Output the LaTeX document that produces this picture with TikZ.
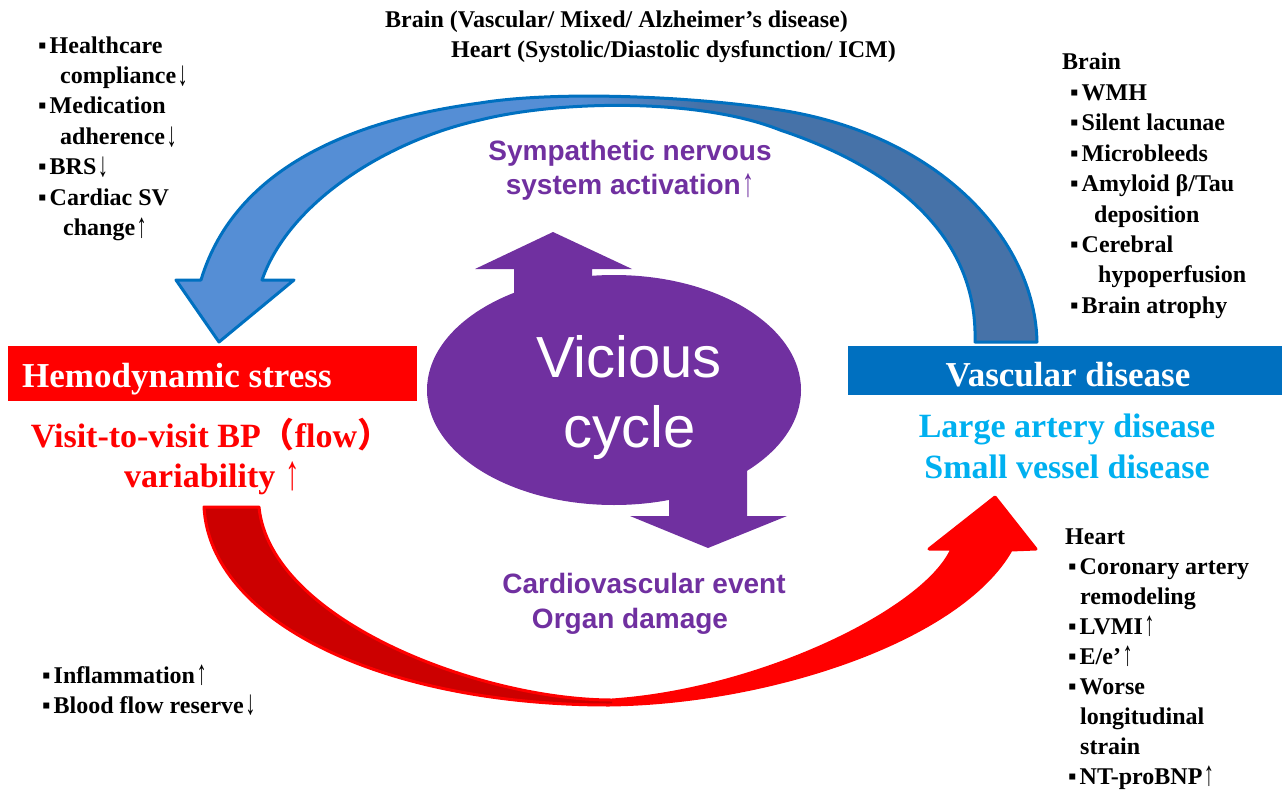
\documentclass[tikz,border=0pt]{standalone}
\usepackage{fontspec}
\usepackage{graphicx}
\setmainfont{Liberation Serif}
\setsansfont{Liberation Sans}
\newfontfamily\cjk{Noto Sans CJK SC}
\usetikzlibrary{shapes.geometric}

\definecolor{cyclepurple}{HTML}{7030A0}
\definecolor{vascblue}{HTML}{0070C0}
\definecolor{arrowlight}{HTML}{558ED5}
\definecolor{arrowdark}{HTML}{4672A8}
\definecolor{lightcyan}{HTML}{00B0F0}
\definecolor{darkred}{HTML}{CC0000}

% thin tall arrows and list bullet
\newcommand{\arrup}{\kern1.5pt\raisebox{-0.08em}{\scalebox{0.85}[1.45]{\mdseries ↑}}}
\newcommand{\arrdn}{\kern1.5pt\raisebox{-0.08em}{\scalebox{0.85}[1.45]{\mdseries ↓}}}
\newcommand{\bul}{▪\kern3pt}

% outlines of the two big bent arrows (pixel coordinates, y downwards)
\newcommand{\bluearrowpath}{(1037,342) .. controls (1035,240) and (940,135) .. (780,110)
  .. controls (700,97) and (560,90) .. (480,103)
  .. controls (390,115) and (240,150) .. (201,280)
  -- (176,280) -- (219,342) -- (294,280) -- (262,280)
  .. controls (290,200) and (390,140) .. (480,120)
  .. controls (560,100) and (700,98) .. (780,130)
  .. controls (900,170) and (978,240) .. (975,342) -- cycle}
\newcommand{\redarrowpath}{(204,507) .. controls (210,620) and (380,705) .. (609,705)
  .. controls (770,703) and (960,640) .. (1011,550)
  -- (1036,549) -- (995,497) -- (929,549) -- (952,549)
  .. controls (925,610) and (760,690) .. (612,700)
  .. controls (480,700) and (270,620) .. (259,507) -- cycle}

\begin{document}
\begin{tikzpicture}[x=1pt, y=-1pt,
  listtext/.style={anchor=base west, inner sep=0pt, font=\bfseries\fontsize{24}{30}\selectfont},
  boxtitle/.style={inner sep=0pt, text=white, font=\bfseries\fontsize{35}{40}\selectfont},
  subtitle/.style={anchor=base, inner sep=0pt, font=\bfseries\fontsize{34}{40}\selectfont},
  purpletext/.style={anchor=base, inner sep=0pt, text=cyclepurple, font=\sffamily\bfseries\fontsize{28}{32}\selectfont}]
  \useasboundingbox (0,0) rectangle (1282,792);

  % blue arrow (vascular disease -> hemodynamic stress)
  \fill[arrowlight] \bluearrowpath;
  \begin{scope}
    \clip \bluearrowpath;
    \shade[left color=arrowlight, right color=arrowdark] (580,0) rectangle (700,400);
    \fill[arrowdark] (700,0) rectangle (1282,400);
  \end{scope}
  \draw[vascblue, line width=3pt, line join=round] \bluearrowpath;

  % red arrow (hemodynamic stress -> vascular disease)
  \fill[red] \redarrowpath;
  \begin{scope}
    \clip (0,400) rectangle (612,792);
    \fill[darkred] \redarrowpath;
  \end{scope}
  \draw[red, line width=3pt, line join=round] \redarrowpath;

  % vicious cycle
  \node[ellipse, fill=cyclepurple, minimum width=374pt, minimum height=230pt, inner sep=0pt] (cycle) at (614,390) {};
  \fill[cyclepurple] (514,330) -- (514,269) -- (475,269) -- (553,232) -- (632,269) -- (592,269) -- (592,330) -- cycle;
  \fill[cyclepurple] (669,450) -- (669,516) -- (630,516) -- (708,548) -- (787,516) -- (747,516) -- (747,450) -- cycle;
  \node[anchor=base, inner sep=0pt, text=white, font=\sffamily\fontsize{58}{70}\selectfont] (vica) at (629,377) {Vicious};
  \node[anchor=base, inner sep=0pt, text=white, font=\sffamily\fontsize{58}{70}\selectfont] (vicb) at (630,447) {cycle};

  \node[purpletext] (snsa) at (630,160) {Sympathetic nervous};
  \node[purpletext] (snsb) at (630,194) {system activation\arrup};
  \node[purpletext] (cvea) at (644,593) {Cardiovascular event};
  \node[purpletext] (cveb) at (630,628) {Organ damage};

  % the two boxes
  \fill[red] (8,346) rectangle (417,401);
  \node[boxtitle, anchor=base west] (hemo) at (22,387) {Hemodynamic stress};
  \fill[vascblue] (848,346) rectangle (1282,395);
  \node[boxtitle, anchor=base] (vasc) at (1068,386) {Vascular disease};

  \node[subtitle, text=red] (vva) at (211,447) {Visit-to-visit BP{\cjk （}flow{\cjk ）}};
  \node[subtitle, text=red] (vvb) at (212,487) {variability \arrup};
  \node[subtitle, text=lightcyan] (lad) at (1067,437) {Large artery disease};
  \node[subtitle, text=lightcyan] (svd) at (1067,478) {Small vessel disease};

  % top lines
  \node[listtext] (topbrain) at (385,28) {Brain (Vascular/ Mixed/ Alzheimer’s disease)};
  \node[listtext] (topheart) at (451,58) {Heart (Systolic/Diastolic dysfunction/ ICM)};

  % lists
  \foreach \x/\t [count=\i from 0] in {38/{\bul Healthcare}, 60/{compliance\arrdn}, 38/{\bul Medication},
      60/{adherence\arrdn}, 38/{\bul BRS\arrdn}, 38/{\bul Cardiac SV}, 63/{change\arrup}}
    \node[listtext] (hl\i) at (\x, {53+30.4*\i}) {\t};
  \foreach \x/\t [count=\i from 0] in {1062/{Brain}, 1070/{\bul WMH}, 1070/{\bul Silent lacunae},
      1070/{\bul Microbleeds}, 1070/{\bul Amyloid β/Tau}, 1094/{deposition}, 1070/{\bul Cerebral},
      1098/{hypoperfusion}, 1070/{\bul Brain atrophy}}
    \node[listtext] (br\i) at (\x, {70+30.4*\i}) {\t};
  \foreach \x/\t [count=\i from 0] in {1065/{Heart}, 1068/{\bul Coronary artery}, 1080/{remodeling},
      1068/{\bul LVMI\arrup}, 1068/{\bul E/e’\arrup}, 1068/{\bul Worse}, 1080/{longitudinal}, 1080/{strain},
      1068/{\bul NT-proBNP\arrup}}
    \node[listtext] (ht\i) at (\x, {544+30*\i}) {\t};
  \foreach \x/\t [count=\i from 0] in {42/{\bul Inflammation\arrup}, 42/{\bul Blood flow reserve\arrdn}}
    \node[listtext] (fl\i) at (\x, {683+30*\i}) {\t};
\end{tikzpicture}
\end{document}
